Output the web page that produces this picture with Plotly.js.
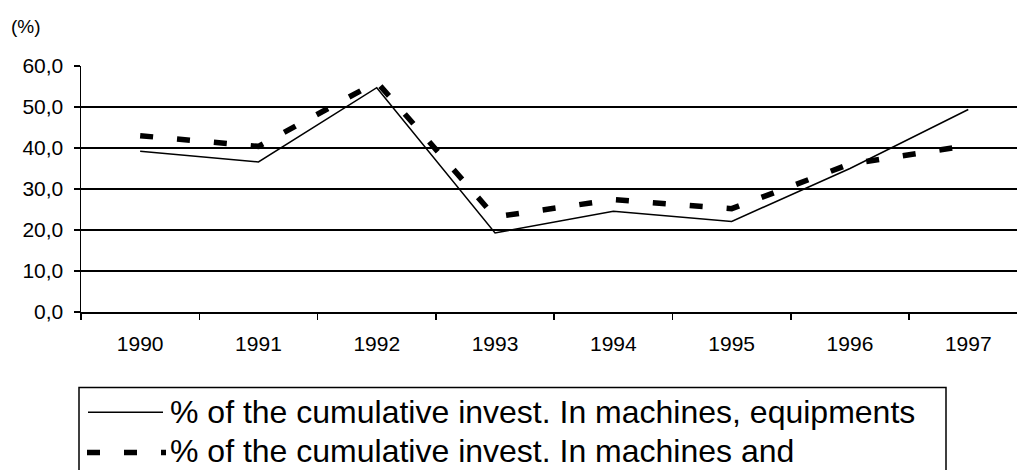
<!DOCTYPE html>
<html>
<head>
<meta charset="utf-8">
<script src="https://cdn.plot.ly/plotly-3.0.1.min.js"></script>
<style>html,body{margin:0;padding:0;background:#fff;}#chart{width:1017px;height:470px;}</style>
</head>
<body>
<div id="chart"></div>
<script>
// ---- data ----
var years = ['1990', '1991', '1992', '1993', '1994', '1995', '1996', '1997'];
var seriesSolid = [39.2, 36.6, 54.7, 19.3, 24.6, 22.1, 35.0, 49.4];
var seriesDashed = [43.0, 40.4, 56.1, 23.2, 27.4, 25.2, 36.1, 40.6];
var nameSolid = '% of the cumulative invest. In machines, equipments';
var nameDashed = '% of the cumulative invest. In machines and';
var yTickVals = [0, 10, 20, 30, 40, 50, 60];
var yTickText = ['0,0', '10,0', '20,0', '30,0', '40,0', '50,0', '60,0'];
var unitLabel = '(%)';

// ---- geometry helpers (pixels -> paper) ----
var W = 1017, H = 470, ML = 81, MR = 0, MT = 66, MB = 158;
var PW = W - ML - MR, PH = H - MT - MB;
function xp(px) { return (px - ML) / PW; }
function yp(py) { return (H - MB - py) / PH; }

var FONT = 'Liberation Sans, Arial, Helvetica, sans-serif';

var traces = [
  {
    x: years, y: seriesSolid, name: nameSolid, type: 'scatter', mode: 'lines',
    line: { color: '#000', width: 1.5 }, showlegend: false, hoverinfo: 'skip'
  },
  {
    x: years, y: seriesDashed, name: nameDashed, type: 'scatter', mode: 'lines',
    line: { color: '#000', width: 5.5, dash: '13px,24px' }, showlegend: false, hoverinfo: 'skip'
  }
];

var layout = {
  width: W, height: H,
  margin: { l: ML, r: MR, t: MT, b: MB, pad: 0 },
  paper_bgcolor: '#fff', plot_bgcolor: '#fff',
  font: { family: FONT, color: '#000', size: 21 },
  separators: ',.',
  showlegend: false,
  xaxis: {
    type: 'category',
    range: [-0.5, 7.412],
    tickson: 'boundaries',
    ticks: 'outside', ticklen: 6, tickwidth: 1.5, tickcolor: '#000',
    showline: true, linecolor: '#000', linewidth: 1.5,
    showgrid: false, zeroline: false,
    tickfont: { family: FONT, size: 21, color: '#000' },
    ticklabelstandoff: 12,
    fixedrange: true
  },
  yaxis: {
    range: [0, 60],
    tickmode: 'array', tickvals: yTickVals, ticktext: yTickText,
    ticks: 'outside', ticklen: 6, tickwidth: 1.5, tickcolor: '#000',
    showline: true, linecolor: '#000', linewidth: 1.5,
    showgrid: true, gridcolor: '#000', gridwidth: 1.5,
    zeroline: false,
    tickfont: { family: FONT, size: 21, color: '#000' },
    ticklabelstandoff: 6,
    fixedrange: true
  },
  shapes: [
    // legend box (continues below the picture)
    { type: 'rect', xref: 'paper', yref: 'paper',
      x0: xp(79), x1: xp(946), y0: yp(387.5), y1: yp(560),
      line: { color: '#000', width: 1.5 }, fillcolor: 'rgba(0,0,0,0)' },
    // legend sample: solid
    { type: 'line', xref: 'paper', yref: 'paper',
      x0: xp(88), x1: xp(163), y0: yp(412.3), y1: yp(412.3),
      line: { color: '#000', width: 1.5 } },
    // legend sample: dashed
    { type: 'line', xref: 'paper', yref: 'paper',
      x0: xp(87), x1: xp(166), y0: yp(452.5), y1: yp(452.5),
      line: { color: '#000', width: 5.5, dash: '13px,24px' } }
  ],
  annotations: [
    { text: unitLabel, xref: 'paper', yref: 'paper', x: xp(26), y: yp(26),
      xanchor: 'center', yanchor: 'middle', showarrow: false,
      font: { family: FONT, size: 19, color: '#000' } },
    { text: nameSolid, xref: 'paper', yref: 'paper', x: xp(168), y: yp(412.2),
      xanchor: 'left', yanchor: 'middle', showarrow: false,
      font: { family: FONT, size: 32, color: '#000' } },
    { text: nameDashed, xref: 'paper', yref: 'paper', x: xp(168), y: yp(450.8),
      xanchor: 'left', yanchor: 'middle', showarrow: false,
      font: { family: FONT, size: 32, color: '#000' } }
  ]
};

Plotly.newPlot('chart', traces, layout, { displayModeBar: false, staticPlot: true });
</script>
</body>
</html>
